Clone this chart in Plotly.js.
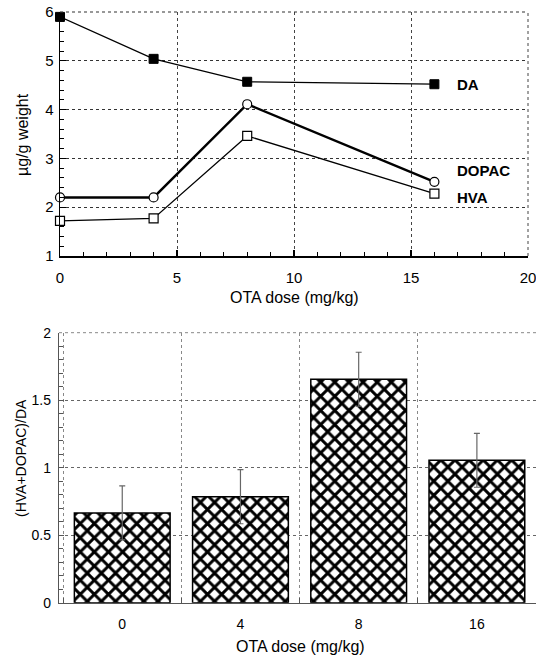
<!DOCTYPE html>
<html>
<head>
<meta charset="utf-8">
<script src="https://cdn.plot.ly/plotly-3.0.1.min.js"></script>
<style>html,body{margin:0;padding:0;background:#fff;}#chart{width:536px;height:656px;}</style>
</head>
<body>
<div id="chart"></div>
<script>
// Top panel: amine levels vs OTA dose
const doses = [0, 4, 8, 16];
const DA = [5.90, 5.04, 4.57, 4.52];
const DOPAC = [2.20, 2.20, 4.11, 2.52];
const HVA = [1.72, 1.77, 3.46, 2.28];
const seriesLabels = ['DA', 'DOPAC', 'HVA'];
const labelY = [4.52, 2.76, 2.19];
const labelX = 16.9;

// Bottom panel: ratio (HVA+DOPAC)/DA
const doseCats = ['0', '4', '8', '16'];
const ratio = [0.665, 0.785, 1.655, 1.055];
const ratioErr = [0.20, 0.20, 0.20, 0.20];
const sigMarks = ['', '', '*', ''];

const W = 536, H = 656;
const fontFam = 'Liberation Sans, Arial, Helvetica, sans-serif';

const traces = [
  {x: doses, y: DA, xaxis: 'x', yaxis: 'y', mode: 'lines+markers', name: 'DA', cliponaxis: false,
   line: {color: '#000', width: 1.3},
   marker: {symbol: 'square', size: 9, color: '#000', line: {color: '#000', width: 1}}},
  {x: doses, y: DOPAC, xaxis: 'x', yaxis: 'y', mode: 'lines+markers', name: 'DOPAC', cliponaxis: false,
   line: {color: '#000', width: 2.4},
   marker: {symbol: 'circle', size: 9, color: '#fff', line: {color: '#000', width: 1.2}}},
  {x: doses, y: HVA, xaxis: 'x', yaxis: 'y', mode: 'lines+markers', name: 'HVA', cliponaxis: false,
   line: {color: '#000', width: 1.3},
   marker: {symbol: 'square', size: 9, color: '#fff', line: {color: '#000', width: 1.2}}},
  {x: doseCats, y: ratio, xaxis: 'x2', yaxis: 'y2', type: 'bar', width: 0.81,
   marker: {color: '#fff', line: {color: '#000', width: 1.5},
            pattern: {shape: 'x', size: 10, solidity: 0.5, fgcolor: '#000', bgcolor: '#fff'}},
   error_y: {type: 'data', array: ratioErr, visible: true, color: '#666', thickness: 1.2, width: 3}}
];

const annotations = [];
seriesLabels.forEach((s, i) => annotations.push({
  x: labelX, y: labelY[i], xref: 'x', yref: 'y', text: '<b>' + s + '</b>',
  showarrow: false, xanchor: 'left', yanchor: 'middle',
  font: {family: fontFam, size: 15, color: '#000'}
}));
doseCats.forEach((c, i) => {
  if (sigMarks[i]) annotations.push({
    x: c, y: ratio[i] + ratioErr[i], xref: 'x2', yref: 'y2', text: sigMarks[i],
    showarrow: false, yanchor: 'bottom', yshift: 0,
    font: {family: fontFam, size: 12, color: '#000'}
  });
});
// axis titles
annotations.push({x: (60 + 528) / 2 / W, y: 1 - 297 / H, xref: 'paper', yref: 'paper',
  text: 'OTA dose (mg/kg)', showarrow: false, xanchor: 'center', yanchor: 'middle',
  font: {family: fontFam, size: 16, color: '#000'}});
annotations.push({x: 22 / W, y: 1 - 135 / H, xref: 'paper', yref: 'paper',
  text: 'µg/g weight', showarrow: false, textangle: -90, xanchor: 'center', yanchor: 'middle',
  font: {family: fontFam, size: 16, color: '#000'}});
annotations.push({x: 300 / W, y: 1 - 646 / H, xref: 'paper', yref: 'paper',
  text: 'OTA dose (mg/kg)', showarrow: false, xanchor: 'center', yanchor: 'middle',
  font: {family: fontFam, size: 16, color: '#000'}});
annotations.push({x: 21 / W, y: 1 - 458 / H, xref: 'paper', yref: 'paper',
  text: '(HVA+DOPAC)/DA', showarrow: false, textangle: -90, xanchor: 'center', yanchor: 'middle',
  font: {family: fontFam, size: 14, color: '#000'}});

const tickFont = {family: fontFam, size: 15, color: '#000'};

// dotted frame lines at the top and right edges (where gridlines coincide with range ends)
const shapes = [
  {type: 'line', xref: 'x domain', yref: 'y domain', x0: 0, x1: 1, y0: 1, y1: 1,
   line: {color: '#333', width: 1.2, dash: 'dot'}},
  {type: 'line', xref: 'x domain', yref: 'y domain', x0: 1, x1: 1, y0: 0, y1: 1,
   line: {color: '#444', width: 1, dash: 'dot'}},
  {type: 'line', xref: 'x2 domain', yref: 'y2 domain', x0: 0, x1: 1, y0: 1, y1: 1,
   line: {color: '#888', width: 1, dash: 'dot'}}
];

const layout = {
  width: W, height: H,
  margin: {l: 0, r: 0, t: 0, b: 0},
  paper_bgcolor: '#fff', plot_bgcolor: '#fff',
  showlegend: false,
  font: {family: fontFam, color: '#000'},
  xaxis: {domain: [60 / W, 528 / W], anchor: 'y', range: [0, 20], dtick: 5, tick0: 0,
    showline: true, linecolor: '#000', linewidth: 1.5, zeroline: false,
    ticks: 'inside', ticklen: 6, tickcolor: '#000', tickwidth: 1.2,
    minor: {dtick: 1, ticks: 'inside', ticklen: 4, tickcolor: '#000', tickwidth: 1, showgrid: false},
    showgrid: true, gridcolor: '#444', griddash: 'dot', gridwidth: 1,
    tickfont: tickFont, ticklabelstandoff: 7, ticklabeloverflow: 'allow'},
  yaxis: {domain: [1 - 256 / H, 1 - 12 / H], anchor: 'x', range: [1, 6], dtick: 1,
    showline: true, linecolor: '#000', linewidth: 1.5, zeroline: false,
    ticks: 'inside', ticklen: 6, tickcolor: '#000', tickwidth: 1.2,
    minor: {dtick: 0.2, ticks: 'inside', ticklen: 4, tickcolor: '#000', tickwidth: 1, showgrid: false},
    showgrid: true, gridcolor: '#333', griddash: 'dot', gridwidth: 1.2,
    tickfont: tickFont, ticklabelstandoff: 2, ticklabeloverflow: 'allow'},
  xaxis2: {domain: [59 / W, 1], anchor: 'y2', type: 'category', range: [-0.535, 3.5],
    tickson: 'boundaries', showline: true, linecolor: '#555', linewidth: 1.2,
    ticks: 'inside', ticklen: 5, tickcolor: '#555', tickwidth: 1,
    showgrid: true, gridcolor: '#888', griddash: 'dot', gridwidth: 1,
    tickfont: {family: fontFam, size: 14, color: '#000'}, ticklabelstandoff: 8},
  yaxis2: {domain: [1 - 602.7 / H, 1 - 332.7 / H], anchor: 'x2', range: [0, 2], dtick: 0.5,
    showline: true, linecolor: '#555', linewidth: 1.2, zeroline: false,
    ticks: 'inside', ticklen: 5, tickcolor: '#555', tickwidth: 1,
    minor: {dtick: 0.1, ticks: 'inside', ticklen: 4, tickcolor: '#555', tickwidth: 1, showgrid: false},
    showgrid: true, gridcolor: '#666', griddash: 'dot', gridwidth: 1.2,
    tickfont: {family: fontFam, size: 14, color: '#000'}, ticklabelstandoff: 4},
  shapes: shapes,
  annotations: annotations
};

Plotly.newPlot('chart', traces, layout, {staticPlot: true, displayModeBar: false});
</script>
</body>
</html>
